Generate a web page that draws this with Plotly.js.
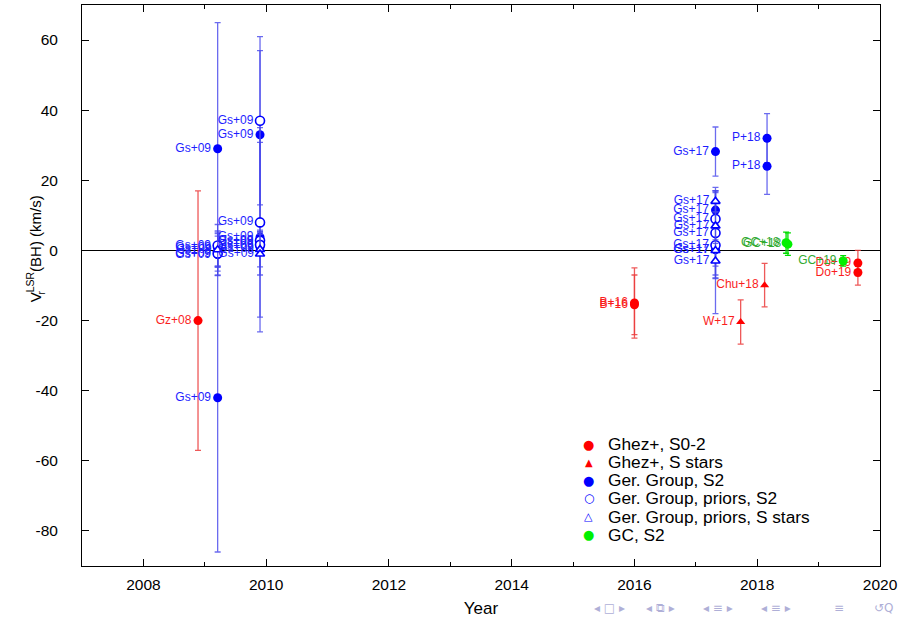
<!DOCTYPE html>
<html>
<head>
<meta charset="utf-8">
<script src="https://cdn.plot.ly/plotly-3.0.1.min.js"></script>
<style>html,body{margin:0;padding:0;background:#fff;}#chart{width:904px;height:618px;}</style>
</head>
<body>
<div id="chart"></div>
<script>
// ---- Data ----
// Ghez+, S0-2 (red filled circles)
const ghezS02X = [2008.89, 2016.0, 2016.0, 2019.64, 2019.64];
const ghezS02Y = [-20, -15, -15.5, -3.6, -6.3];
const ghezS02Err = [37, 10, 8.5, 3.6, 3.6];
const ghezS02Lab = ["Gz+08", "B+16", "B+16", "Do+19", "Do+19"];

// Ghez+, S stars (red triangles)
const ghezSX = [2017.73, 2018.12];
const ghezSY = [-20.4, -9.9];
const ghezSErr = [6.3, 6.2];
const ghezSLab = ["W+17", "Chu+18"];

// Ger. Group, S2 (blue filled circles)
const gerS2X = [2009.21, 2009.21, 2009.21, 2009.21, 2009.9, 2009.9, 2009.9, 2009.9, 2017.32, 2017.32, 2017.32, 2018.16, 2018.16];
const gerS2Y = [29, -42, 0.6, -1.2, 33, 3.8, 2.4, 1.0, 28.2, 11.5, 0.2, 32, 24];
const gerS2Err = [36, 44, 5, 6, 24, 27, 3, 2, 7, 5, 8, 7, 8];
const gerS2Lab = ["Gs+09", "Gs+09", "Gs+09", "Gs+09", "Gs+09", "Gs+09", "Gs+09", "Gs+09", "Gs+17", "Gs+17", "Gs+17", "P+18", "P+18"];

// Ger. Group, priors, S2 (blue open circles)
const gerPriS2X = [2009.21, 2009.21, 2009.9, 2009.9, 2009.9, 2009.9, 2017.32, 2017.32, 2017.32];
const gerPriS2Y = [1.4, -0.9, 37, 8, 2.8, 1.6, 9, 5, 1.5];
const gerPriS2Err = [6, 5, 24, 27, 3, 3, 8, 12, 6];
const gerPriS2Lab = ["Gs+09", "Gs+09", "Gs+09", "Gs+09", "Gs+09", "Gs+09", "Gs+17", "Gs+17", "Gs+17"];

// Ger. Group, priors, S stars (blue open triangles)
const gerPriSX = [2009.21, 2009.9, 2009.9, 2017.32, 2017.32, 2017.32, 2017.32];
const gerPriSY = [0.2, 0.3, -1.0, 14, 7, 0, -3];
const gerPriSErr = [5, 5, 6, 3, 4, 18, 5];
const gerPriSLab = ["Gs+09", "Gs+09", "Gs+09", "Gs+17", "Gs+17", "Gs+17", "Gs+17"];

// GC, S2 (green filled circles)
const gcX = [2018.47, 2018.5, 2019.4];
const gcY = [2.2, 1.8, -3.0];
const gcErr = [3, 3.2, 1.5];
const gcLab = ["GC+18", "GC+18", "GC+19"];

const legendNames = ["Ghez+, S0-2", "Ghez+, S stars", "Ger. Group, S2", "Ger. Group, priors, S2", "Ger. Group, priors, S stars", "GC, S2"];
const legendGlyphs = ["●", "▲", "●", "○", "△", "●"];
const yTickVals = [-80, -60, -40, -20, 0, 20, 40, 60];
const yTickText = ["-80", "-60", "-40", "-20", "0", "20", "40", "60"];
const navGroups = ["◂ □ ▸", "◂ ⧉ ▸", "◂ ≡ ▸", "◂ ≡ ▸", "≡", "↺Q"];

// ---- Styles ----
const RED = "rgb(255,0,0)", BLUE = "rgb(0,0,255)", GREEN = "rgb(0,240,0)";
const legendColors = [RED, RED, BLUE, BLUE, BLUE, GREEN];
const FONT = "Liberation Sans, Arial, sans-serif";

function series(x, y, err, lab, sym, open, col, txtCol, errCol) {
  return {
    type: "scatter", mode: "markers+text", x: x, y: y, text: lab,
    textposition: "middle left",
    textfont: {family: FONT, size: 12, color: txtCol},
    marker: {symbol: sym, size: sym === "triangle-up" ? 8 : 9, color: open ? "white" : col,
             line: {color: col, width: open ? 1.6 : 0}},
    error_y: {type: "data", array: err, visible: true, color: errCol, thickness: 1.3, width: 3},
    showlegend: false, hoverinfo: "x+y+text"
  };
}

const traces = [
  series(ghezS02X, ghezS02Y, ghezS02Err, ghezS02Lab, "circle", false, RED, "rgb(250,30,30)", "rgba(235,60,60,0.85)"),
  series(ghezSX, ghezSY, ghezSErr, ghezSLab, "triangle-up", false, RED, "rgb(250,30,30)", "rgba(235,60,60,0.85)"),
  series(gerS2X, gerS2Y, gerS2Err, gerS2Lab, "circle", false, BLUE, "rgb(30,30,255)", "rgba(70,70,235,0.8)"),
  series(gerPriS2X, gerPriS2Y, gerPriS2Err, gerPriS2Lab, "circle", true, BLUE, "rgb(30,30,255)", "rgba(70,70,235,0.8)"),
  series(gerPriSX, gerPriSY, gerPriSErr, gerPriSLab, "triangle-up", true, BLUE, "rgb(30,30,255)", "rgba(70,70,235,0.8)"),
  series(gcX, gcY, gcErr, gcLab, "circle", false, GREEN, "rgb(50,170,50)", "rgb(0,220,0)")
];

// Legend drawn as text annotations (tight row spacing of the reference)
const annotations = [];
const legX0 = 0.635, legTxtX = 0.6565, legY0 = 0.217, legDy = 0.0322;
const glyphSize = [13, 10, 13, 12, 11, 13];
legendNames.forEach((nm, i) => {
  const yy = legY0 - i * legDy;
  annotations.push({xref: "paper", yref: "paper", x: legX0, y: yy, xanchor: "center", yanchor: "middle",
    showarrow: false, text: legendGlyphs[i], font: {family: "DejaVu Sans", size: glyphSize[i], color: legendColors[i]}});
  annotations.push({xref: "paper", yref: "paper", x: legTxtX, y: yy, xanchor: "left", yanchor: "middle",
    showarrow: false, text: nm, font: {family: FONT, size: 17.3, color: "black"}});
});
// y-axis title with stacked sub/superscript
annotations.push({xref: "paper", yref: "paper", x: -0.061, y: 0.565, xanchor: "center", yanchor: "middle",
  textangle: -90, showarrow: false, text: "V<sup>LSR</sup>(BH) (km/s)", font: {family: FONT, size: 15, color: "black"}});
annotations.push({xref: "paper", yref: "paper", x: -0.0505, y: 0.487, xanchor: "center", yanchor: "middle",
  textangle: -90, showarrow: false, text: "r", font: {family: FONT, size: 10, color: "black"}});
// beamer navigation symbols
const navX = [0.661, 0.725, 0.797, 0.870, 0.949, 1.005];
navGroups.forEach((g, i) => {
  annotations.push({xref: "paper", yref: "paper", x: navX[i], y: -0.074, xanchor: "center", yanchor: "middle",
    showarrow: false, borderpad: 0, text: g, font: {family: "DejaVu Sans", size: 12, color: "rgb(175,175,215)"}});
});

const layout = {
  width: 904, height: 618,
  margin: {l: 82, r: 24, t: 5, b: 52},
  paper_bgcolor: "white", plot_bgcolor: "white",
  font: {family: FONT, size: 15, color: "black"},
  showlegend: false,
  xaxis: {
    range: [2007, 2020], tick0: 2008, dtick: 2,
    showgrid: false, zeroline: false,
    showline: true, linecolor: "black", linewidth: 1, mirror: "allticks",
    ticks: "inside", ticklen: 7, tickcolor: "black", tickwidth: 1,
    minor: {dtick: 1, tick0: 2007, ticks: "inside", ticklen: 4, tickcolor: "black", showgrid: false},
    tickfont: {family: FONT, size: 15.5, color: "black"},
    ticklabelstandoff: 4,
    title: {text: "Year", font: {family: FONT, size: 17, color: "black"}, standoff: 11}
  },
  yaxis: {
    range: [-90, 70],
    tickmode: "array", tickvals: yTickVals, ticktext: yTickText,
    showgrid: false,
    zeroline: true, zerolinecolor: "black", zerolinewidth: 1,
    showline: true, linecolor: "black", linewidth: 1, mirror: "allticks",
    ticks: "inside", ticklen: 7, tickcolor: "black", tickwidth: 1,
    tickfont: {family: FONT, size: 15.5, color: "black"},
    ticklabelstandoff: 20
  },
  annotations: annotations
};

Plotly.newPlot("chart", traces, layout, {displayModeBar: false, staticPlot: true});
</script>
</body>
</html>
